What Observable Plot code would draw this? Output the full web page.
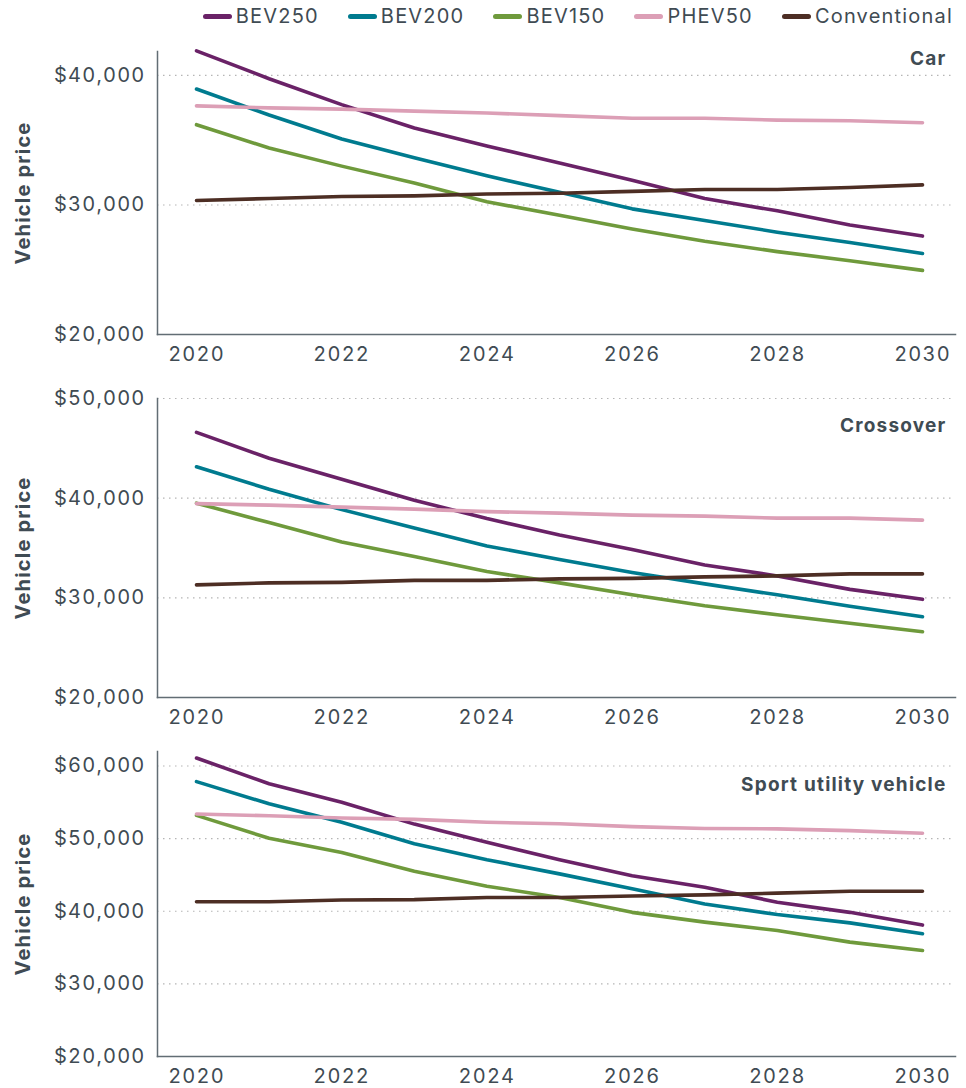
<!DOCTYPE html>
<html>
<head>
<meta charset="utf-8">
<script src="https://cdn.jsdelivr.net/npm/d3@7"></script>
<script src="https://cdn.jsdelivr.net/npm/@observablehq/plot@0.6"></script>
<style>
  html, body { margin: 0; padding: 0; background: #fff; }
  body { width: 966px; font-family: Inter, "Open Sans", sans-serif; color: #3f4b53; }
  #legend { height: 32px; position: relative; display: flex; justify-content: flex-end; align-items: center; padding-right: 13px; box-sizing: border-box; font-size: 20px; letter-spacing: 1.2px; }
  .item { display: flex; align-items: center; margin-left: 29px; }
  .sw { width: 29px; height: 5px; border-radius: 3px; margin-right: 4px; }
  svg { display: block; }
  svg text { letter-spacing: 1.2px; }
</style>
</head>
<body>
<div id="legend"></div>
<div id="charts"></div>
<script>
const years = [2020, 2021, 2022, 2023, 2024, 2025, 2026, 2027, 2028, 2029, 2030];
const xTicks = [2020, 2022, 2024, 2026, 2028, 2030];
const seriesNames = ["BEV250", "BEV200", "BEV150", "PHEV50", "Conventional"];
const seriesColors = ["#6a2267", "#007b8f", "#6f9a3c", "#dc9fb6", "#4d2e24"];

// Car
const carBEV250 = [41900, 39750, 37750, 35950, 34550, 33250, 31900, 30500, 29550, 28450, 27600];
const carBEV200 = [38950, 36950, 35100, 33650, 32250, 30980, 29700, 28800, 27900, 27100, 26250];
const carBEV150 = [36200, 34400, 33000, 31700, 30250, 29200, 28150, 27200, 26400, 25700, 24950];
const carPHEV50 = [37650, 37500, 37400, 37250, 37100, 36900, 36700, 36700, 36550, 36500, 36350];
const carConventional = [30350, 30500, 30650, 30700, 30850, 30900, 31050, 31200, 31200, 31350, 31550];

// Crossover
const crossBEV250 = [46600, 44000, 41900, 39800, 37950, 36300, 34850, 33300, 32200, 30850, 29850];
const crossBEV200 = [43150, 40900, 38850, 37000, 35200, 33850, 32550, 31400, 30300, 29150, 28100];
const crossBEV150 = [39500, 37550, 35600, 34150, 32650, 31500, 30300, 29200, 28300, 27450, 26600];
const crossPHEV50 = [39450, 39300, 39100, 38900, 38650, 38500, 38300, 38200, 38000, 38000, 37800];
const crossConventional = [31300, 31500, 31550, 31750, 31750, 31900, 31950, 32100, 32200, 32400, 32400];

// Sport utility vehicle
const suvBEV250 = [61100, 57550, 55000, 52000, 49500, 47100, 44900, 43300, 41250, 39850, 38100];
const suvBEV200 = [57850, 54800, 52250, 49300, 47100, 45150, 43100, 41000, 39550, 38400, 36900];
const suvBEV150 = [53200, 50050, 48100, 45500, 43450, 41900, 39850, 38500, 37350, 35750, 34600];
const suvPHEV50 = [53400, 53150, 52850, 52650, 52250, 52050, 51650, 51400, 51350, 51100, 50750];
const suvConventional = [41300, 41300, 41550, 41600, 41900, 41900, 42100, 42250, 42500, 42750, 42750];

const panelTitles = ["Car", "Crossover", "Sport utility vehicle"];
const yLabel = "Vehicle price";
const carYTicks = [20000, 30000, 40000];
const crossYTicks = [20000, 30000, 40000, 50000];
const suvYTicks = [20000, 30000, 40000, 50000, 60000];

const textColor = "#3f4b53";
const axisColor = "#626d74";

function toRows(arrs) {
  const rows = [];
  arrs.forEach((arr, i) => arr.forEach((v, j) => rows.push({year: years[j], value: v, series: seriesNames[i]})));
  return rows;
}

const panels = [
  {title: panelTitles[0], rows: toRows([carBEV250, carBEV200, carBEV150, carPHEV50, carConventional]),
   yDomain: [20000, 41850], yTicks: carYTicks, height: 342, mt: 19, mb: 40, titleDy: 7},
  {title: panelTitles[1], rows: toRows([crossBEV250, crossBEV200, crossBEV150, crossPHEV50, crossConventional]),
   yDomain: [20000, 50000], yTicks: crossYTicks, height: 358, mt: 24, mb: 35, titleDy: 27},
  {title: panelTitles[2], rows: toRows([suvBEV250, suvBEV200, suvBEV150, suvPHEV50, suvConventional]),
   yDomain: [20000, 62000], yTicks: suvYTicks, height: 356, mt: 19, mb: 32, titleDy: 33}
];

// Legend
const legend = document.getElementById("legend");
seriesNames.forEach((name, i) => {
  const it = document.createElement("div");
  it.className = "item";
  const sw = document.createElement("div");
  sw.className = "sw";
  sw.style.background = seriesColors[i];
  const tx = document.createElement("span");
  tx.textContent = name;
  it.appendChild(sw); it.appendChild(tx);
  legend.appendChild(it);
});

const fmt = d3.format(",");
const charts = document.getElementById("charts");
panels.forEach(p => {
  const chart = Plot.plot({
    width: 966,
    height: p.height,
    marginLeft: 157,
    marginRight: 11,
    marginTop: p.mt,
    marginBottom: p.mb,
    style: {fontFamily: "Inter, 'Open Sans', sans-serif", fontSize: "20px", color: textColor, background: "#fff", overflow: "visible"},
    x: {domain: [2020, 2030], insetLeft: 39, insetRight: 33, ticks: xTicks, tickFormat: d => String(d), tickSize: 0, tickPadding: 12, label: null},
    y: {domain: p.yDomain, ticks: p.yTicks, tickFormat: d => "$" + fmt(d), tickSize: 0, tickPadding: 12, label: null},
    color: {domain: seriesNames, range: seriesColors},
    marks: [
      Plot.gridY(p.yTicks, {stroke: "#b5b5b5", strokeOpacity: 1, strokeDasharray: "1.5,4.5", strokeWidth: 1.2}),
      Plot.frame({anchor: "left", stroke: axisColor, strokeWidth: 1.5}),
      Plot.frame({anchor: "bottom", stroke: axisColor, strokeWidth: 1.5}),
      Plot.lineY(p.rows, {x: "year", y: "value", stroke: "series", strokeWidth: 3.6, strokeLinecap: "round", strokeLinejoin: "round"}),
      Plot.text([p.title], {frameAnchor: "top-right", textAnchor: "end", lineAnchor: "middle", dx: -9, dy: p.titleDy, fontWeight: 700, fontSize: 19, fill: textColor}),
      Plot.text([yLabel], {frameAnchor: "left", textAnchor: "middle", lineAnchor: "middle", rotate: -90, dx: -134, fontWeight: 700, fontSize: 20, fill: textColor})
    ]
  });
  charts.appendChild(chart);
});
</script>
</body>
</html>
